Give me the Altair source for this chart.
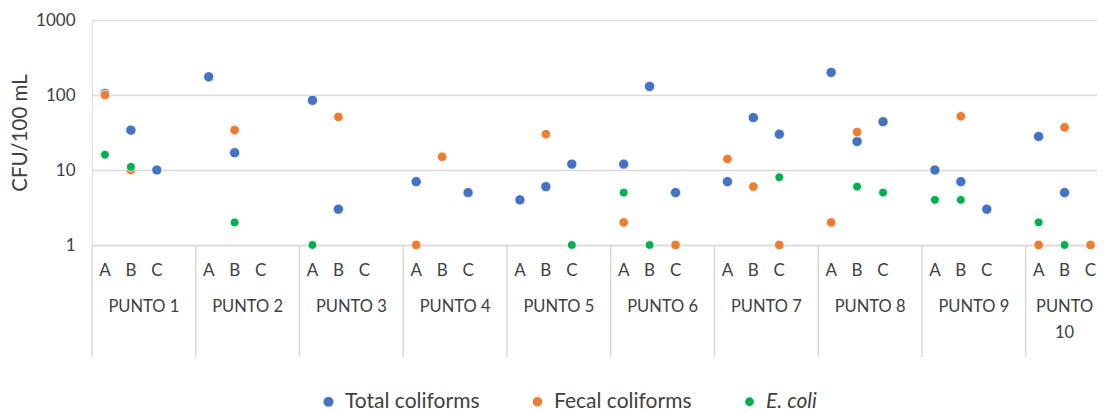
import altair as alt
import pandas as pd

# ---- data ----
groups = ["PUNTO 1", "PUNTO 2", "PUNTO 3", "PUNTO 4", "PUNTO 5",
          "PUNTO 6", "PUNTO 7", "PUNTO 8", "PUNTO 9", "PUNTO 10"]
group_text = ["PUNTO 1", "PUNTO 2", "PUNTO 3", "PUNTO 4", "PUNTO 5",
              "PUNTO 6", "PUNTO 7", "PUNTO 8", "PUNTO 9", "PUNTO\n10"]
subs = ["A", "B", "C"]
series_names = ["Total coliforms", "Fecal coliforms", "E. coli"]
series_colors = ["#4472C4", "#ED7D31", "#00B050"]

# values per group A, B, C (None = no point)
total = [105, 34, 10, 175, 17, None, 85, 3, None, 7, None, 5, 4, 6, 12,
         12, 130, 5, 7, 50, 30, 200, 24, 44, 10, 7, 3, 28, 5, None]
fecal = [100, 10, None, None, 34, None, None, 51, None, 1, 15, None, None, 30, None,
         2, None, 1, 14, 6, 1, 2, 32, None, None, 52, None, 1, 37, 1]
ecoli = [16, 11, None, None, 2, None, 1, None, None, None, None, None, None, None, 1,
         5, 1, None, None, None, 8, None, 6, 5, 4, 4, None, 2, 1, None]

y_ticks = [1, 10, 100, 1000]

# ---- build tables ----
rows = []
for name, vals in zip(series_names, [total, fecal, ecoli]):
    for i, v in enumerate(vals):
        if v is None:
            continue
        g, s = divmod(i, 3)
        rows.append({"series": name, "group": groups[g], "sub": subs[s],
                     "pos": 4 * g + s, "value": v})
df = pd.DataFrame(rows)

sublabels = pd.DataFrame({
    "pos": [4 * g + s for g in range(len(groups)) for s in range(3)],
    "label": [subs[s] for g in range(len(groups)) for s in range(3)],
})
bounds = pd.DataFrame({"pos": [4 * g - 0.5 for g in range(len(groups))]})
centers = [4 * g + 1.5 for g in range(len(groups) - 1)] + [4 * (len(groups) - 1) + 1]
glabels = pd.DataFrame({"pos": centers, "label": group_text})

FONT = "Lato"
TXT = "#404040"
GRID = "#d9d9d9"

xscale = alt.Scale(domain=[-0.5, 38.25], nice=False, zero=False)

points = alt.Chart(df).mark_circle(opacity=1, stroke="white", strokeWidth=0.8).encode(
    x=alt.X("pos:Q", scale=xscale,
            axis=alt.Axis(labels=False, grid=False, ticks=False, tickSize=0,
                          domainColor=GRID, domainWidth=1.5, title=None)),
    y=alt.Y("value:Q",
            scale=alt.Scale(type="log", domain=[1, 1000], nice=False),
            axis=alt.Axis(values=y_ticks, format="d", grid=True, gridColor=GRID,
                          gridWidth=1.5, domain=False, ticks=False, tickSize=0,
                          labelPadding=17, labelFontSize=17, labelFont=FONT,
                          labelColor=TXT, title="CFU/100 mL", titleFontSize=20.5,
                          titleFont=FONT, titleFontWeight="normal", titleColor=TXT,
                          titlePadding=5)),
    color=alt.Color("series:N",
                    scale=alt.Scale(domain=series_names, range=series_colors),
                    sort=series_names,
                    legend=alt.Legend(orient="none", legendX=226, legendY=371,
                                      direction="horizontal", title=None,
                                      symbolType="circle", symbolSize=100,
                                      symbolStrokeWidth=0,
                                      labelFontSize=21, labelFont=FONT,
                                      labelColor=TXT, columnPadding=47,
                                      labelOffset=6, padding=0,
                                      labelFontStyle=alt.ExprRef(
                                          expr="datum.label == 'E. coli' ? 'italic' : 'normal'"))),
    size=alt.Size("series:N",
                  scale=alt.Scale(domain=series_names, range=[105, 78, 78]),
                  legend=None),
    order=alt.Order("order:Q"),
).transform_calculate(
    order="indexof(['Total coliforms','Fecal coliforms','E. coli'], datum.series)"
)

seps = alt.Chart(bounds).mark_rule(color=GRID, strokeWidth=1.5).encode(
    x=alt.X("pos:Q", scale=xscale),
    y=alt.value(225),
    y2=alt.value(337),
)

slab = alt.Chart(sublabels).mark_text(
    baseline="alphabetic", align="center", fontSize=17, font=FONT, color=TXT
).encode(
    x=alt.X("pos:Q", scale=xscale),
    y=alt.value(256),
    text="label:N",
)

glab = alt.Chart(glabels).mark_text(
    baseline="alphabetic", align="center", fontSize=16.5, font=FONT,
    color=TXT, lineBreak="\n", lineHeight=26
).encode(
    x=alt.X("pos:Q", scale=xscale),
    y=alt.value(292),
    text="label:N",
)

chart = alt.layer(points, seps, slab, glab).properties(
    width=1005, height=225,
    autosize=alt.AutoSizeParams(type="none"),
    padding={"left": 84, "top": 12, "right": 0, "bottom": 168},
).configure_view(stroke=None).configure(background="white")

chart.save("out.html", embed_options={"renderer": "svg", "actions": False})
